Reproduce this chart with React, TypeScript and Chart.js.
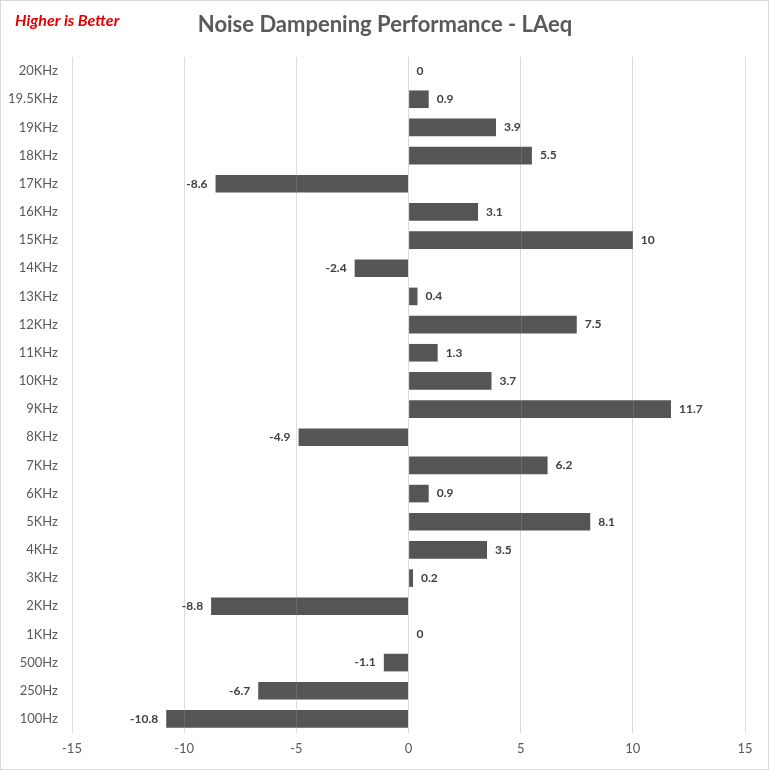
import React, { useEffect, useRef } from "react";
import { Chart, registerables } from "chart.js";

Chart.register(...registerables);

const categories = [
  "20KHz", "19.5KHz", "19KHz", "18KHz", "17KHz", "16KHz", "15KHz", "14KHz",
  "13KHz", "12KHz", "11KHz", "10KHz", "9KHz", "8KHz", "7KHz", "6KHz",
  "5KHz", "4KHz", "3KHz", "2KHz", "1KHz", "500Hz", "250Hz", "100Hz",
];
const values = [
  0, 0.9, 3.9, 5.5, -8.6, 3.1, 10, -2.4,
  0.4, 7.5, 1.3, 3.7, 11.7, -4.9, 6.2, 0.9,
  8.1, 3.5, 0.2, -8.8, 0, -1.1, -6.7, -10.8,
];
const titleText = "Noise Dampening Performance - LAeq";
const noteText = "Higher is Better";
const xMin = -15;
const xMax = 15;
const xStep = 5;

const FONT = "Lato, 'Open Sans', sans-serif";

const decorPlugin = {
  id: "decor",
  afterDatasetsDraw(chart: any) {
    const ctx = chart.ctx;
    const meta = chart.getDatasetMeta(0);
    const area = chart.chartArea;
    const xs = chart.scales.x;
    ctx.save();
    // faint gridlines visible through bars
    ctx.strokeStyle = "rgba(255,255,255,0.12)";
    ctx.lineWidth = 1;
    xs.ticks.forEach((t: any) => {
      const px = Math.round(xs.getPixelForValue(t.value)) + 0.5;
      ctx.beginPath();
      ctx.moveTo(px, area.top);
      ctx.lineTo(px, area.bottom);
      ctx.stroke();
    });
    ctx.font = `bold 12px ${FONT}`;
    ctx.fillStyle = "#404040";
    ctx.textBaseline = "middle";
    meta.data.forEach((bar: any, i: number) => {
      const v = values[i];
      const label = String(v);
      if (v < 0) {
        ctx.textAlign = "right";
        ctx.fillText(label, bar.x - 8, bar.y);
      } else {
        ctx.textAlign = "left";
        ctx.fillText(label, bar.x + 8, bar.y);
      }
    });
    ctx.restore();
  },
  afterDraw(chart: any) {
    const ctx = chart.ctx;
    ctx.save();
    ctx.font = `bold 22px ${FONT}`;
    ctx.fillStyle = "#595959";
    ctx.textAlign = "center";
    ctx.textBaseline = "middle";
    ctx.fillText(titleText, 385, 25);
    ctx.font = `italic bold 16px ${FONT}`;
    ctx.fillStyle = "#e00000";
    ctx.textAlign = "left";
    ctx.fillText(noteText, 15, 21);
    ctx.strokeStyle = "#d9d9d9";
    ctx.lineWidth = 1;
    ctx.strokeRect(0.5, 0.5, chart.width - 1, chart.height - 1);
    ctx.restore();
  },
};

export default function App() {
  const ref = useRef<HTMLCanvasElement>(null);
  useEffect(() => {
    if (!ref.current) return;
    const chart = new Chart(ref.current, {
      type: "bar",
      data: {
        labels: categories,
        datasets: [
          {
            data: values,
            backgroundColor: "#555555",
            barPercentage: 0.625,
            categoryPercentage: 1,
          },
        ],
      },
      options: {
        indexAxis: "y",
        responsive: false,
        animation: false,
        layout: { padding: { top: 57, right: 24, bottom: 0, left: 0 } },
        plugins: {
          legend: { display: false },
          title: { display: false },
          tooltip: { enabled: false },
        },
        scales: {
          x: {
            min: xMin,
            max: xMax,
            ticks: {
              stepSize: xStep,
              color: "#595959",
              font: { family: FONT, size: 13 },
              padding: 8,
            },
            grid: { color: "#d9d9d9", drawTicks: false },
            border: { display: false },
            afterFit(scale: any) {
              scale.height = 37;
            },
          },
          y: {
            ticks: {
              color: "#595959",
              font: { family: FONT, size: 13 },
              padding: 14,
            },
            grid: { display: false, drawTicks: false },
            border: { display: false },
            afterFit(scale: any) {
              scale.width = 72;
            },
          },
        },
      },
      plugins: [decorPlugin],
    });
    return () => chart.destroy();
  }, []);
  return (
    <div style={{ position: "fixed", left: 0, top: 0, width: 769, height: 770, background: "#fff" }}>
      <canvas ref={ref} width={769} height={770} />
    </div>
  );
}
